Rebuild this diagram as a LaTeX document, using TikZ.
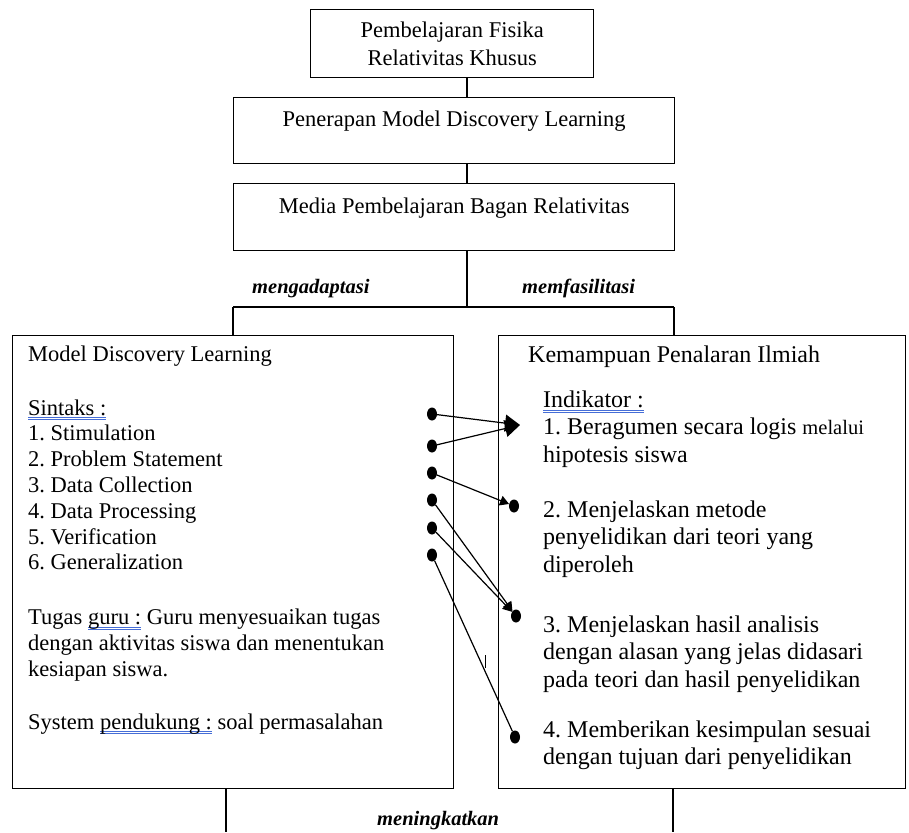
\documentclass[tikz,border=0pt]{standalone}
\usepackage{fontspec}
\setmainfont{Liberation Serif}
\usetikzlibrary{arrows.meta,shapes.geometric}

\definecolor{markblue}{RGB}{70,110,215}
\newsavebox{\markbox}
\newcommand{\spellmark}[1]{\leavevmode\sbox{\markbox}{#1}%
  \rlap{\color{markblue}\rule[-3pt]{\wd\markbox}{0.7pt}}%
  \rlap{\color{markblue}\rule[-5pt]{\wd\markbox}{0.7pt}}\usebox{\markbox}}
\newcommand{\lefttext}{\fontsize{22.5}{25.8}\selectfont}
\newcommand{\righttext}{\fontsize{24}{27.5}\selectfont}
\frenchspacing

\begin{document}
\begin{tikzpicture}[x=1pt, y=-1pt]
	\tikzstyle{box} = [draw, line width=1.4pt, inner sep=0pt, anchor=north west]
	\tikzstyle{txt} = [inner sep=0pt, anchor=north west, align=left]
	\tikzstyle{verb} = [inner sep=0pt, anchor=base west, font=\fontsize{20.5}{22}\selectfont\bfseries\itshape]
	\tikzstyle{dot} = [ellipse, fill=black, minimum width=10pt, minimum height=13pt, inner sep=0pt]
	\tikzstyle{link} = [line width=1.2pt]
	\useasboundingbox (0,0) rectangle (909,832);
	% top chain
	\node[box, minimum width=283pt, minimum height=68pt, align=center, font=\fontsize{22.5}{28}\selectfont] (fisika) at (310,9) {Pembelajaran Fisika\\Relativitas Khusus};
	\node[box, minimum width=441pt, minimum height=66pt, align=center, font=\fontsize{22.5}{26}\selectfont] (penerapan) at (233,97) {Penerapan Model Discovery Learning\\[-10pt] \strut};
	\node[box, minimum width=441pt, minimum height=67pt, align=center, font=\fontsize{22.5}{26}\selectfont] (media) at (233,183) {Media Pembelajaran Bagan Relativitas\\[-10pt] \strut};
	\coordinate (spine) at (467,0);
	\coordinate (barL) at (233,307);
	\coordinate (barR) at (674,307);
	\draw[link] (fisika.south -| spine) -- (penerapan.north -| spine);
	\draw[link] (penerapan.south -| spine) -- (media.north -| spine);
	\draw[link] (media.south -| spine) -- (spine |- barL);
	\draw[link] (barL) -- (barR);
	\node[verb] (adapt) at (252,293) {mengadaptasi};
	\node[verb] (fasil) at (522,293) {memfasilitasi};
	% the two big boxes
	\node[box, minimum width=441pt, minimum height=453pt] (mdl) at (12,335) {};
	\node[box, minimum width=407pt, minimum height=453pt] (kpi) at (498,335) {};
	\draw[link] (barL) -- (barL |- mdl.north);
	\draw[link] (barR) -- (barR |- kpi.north);
	\node[txt, font=\lefttext] (mdltext) at (28,345.5) {Model Discovery Learning\\[28pt]
		\spellmark{Sintaks :}\\
		1. Stimulation\\
		2. Problem Statement\\
		3. Data Collection\\
		4. Data Processing\\
		5. Verification\\
		6. Generalization\\[29pt]
		Tugas \spellmark{guru :} Guru menyesuaikan tugas\\
		dengan aktivitas siswa dan menentukan\\
		kesiapan siswa.\\[27pt]
		System \spellmark{pendukung :} soal permasalahan};
	\node[txt, font=\righttext] (kpititle) at (528,345.5) {Kemampuan Penalaran Ilmiah};
	\node[txt, font=\righttext] (indik) at (543,390.6) {\spellmark{Indikator :}\\
		1. Beragumen secara logis {\fontsize{20.5}{27.5}\selectfont melalui}\\
		hipotesis siswa\\[27.5pt]
		2. Menjelaskan metode\\
		penyelidikan dari teori yang\\
		diperoleh\\[32.5pt]
		3. Menjelaskan hasil analisis\\
		dengan alasan yang jelas didasari\\
		pada teori dan hasil penyelidikan\\[22.5pt]
		4. Memberikan kesimpulan sesuai\\
		dengan tujuan dari penyelidikan};
	% links from the steps to the indicators
	\node[dot] (s1) at (432,414) {};
	\node[dot] (s2) at (432,446) {};
	\node[dot] (s3) at (432,473) {};
	\node[dot] (s4) at (432,500) {};
	\node[dot] (s5) at (432,528) {};
	\node[dot] (s6) at (432,555) {};
	\coordinate (t1) at (520,425);
	\node[dot] (t2) at (514,506) {};
	\node[dot] (t3) at (516,616) {};
	\node[dot] (t4) at (515,737) {};
	\draw[link, -{Triangle[length=15pt, width=17pt]}] (s1) -- (t1);
	\draw[link, -{Triangle[length=15pt, width=17pt]}] (s2) -- (t1);
	\draw[link, -{Triangle[length=9pt, width=10pt]}] (s3) -- (t2);
	\draw[link, -{Triangle[length=9pt, width=10pt]}] (s4) -- (t3);
	\draw[link, -{Triangle[length=9pt, width=10pt]}] (s5) -- (t3);
	\draw[link] (s6) -- (t4);
	\draw[line width=0.9pt] (485,655) -- (485,668);
	% bottom
	\coordinate (lout) at (226,832);
	\coordinate (rout) at (673,832);
	\draw[link] (mdl.south -| lout) -- (lout);
	\draw[link] (kpi.south -| rout) -- (rout);
	\node[verb] (naik) at (377,825) {meningkatkan};
\end{tikzpicture}
\end{document}
